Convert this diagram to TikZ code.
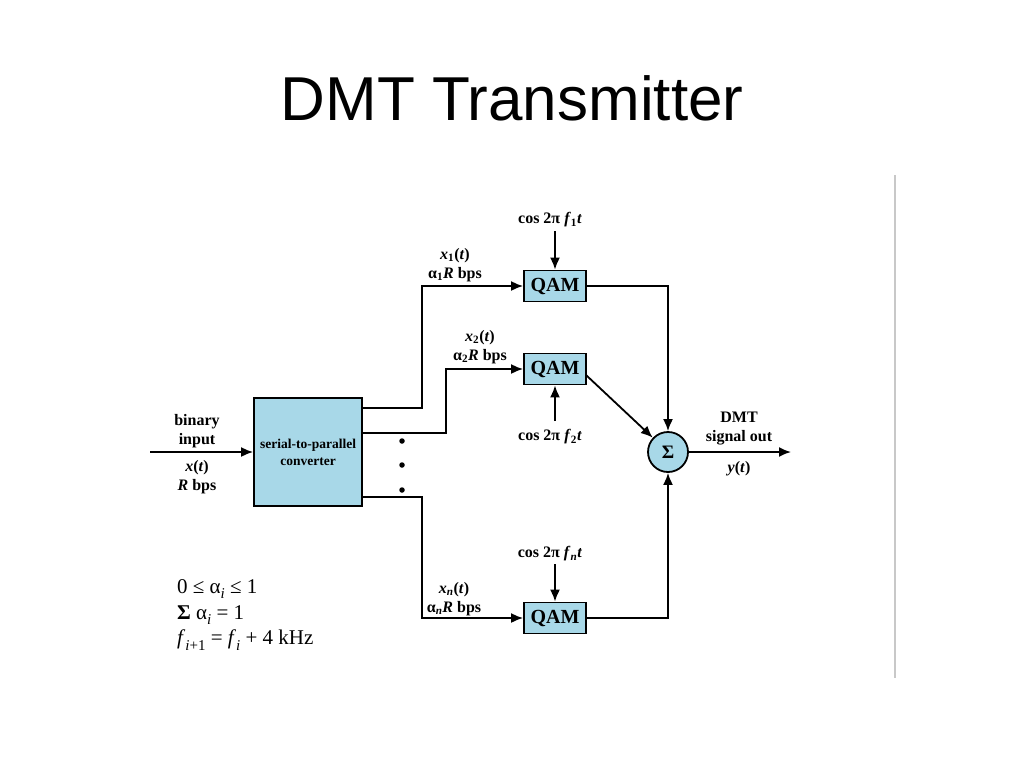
\documentclass[tikz,border=0pt]{standalone}
\usepackage{fontspec}
\setmainfont{Liberation Serif}
\newfontfamily\titlefont{Liberation Sans}
\usetikzlibrary{arrows.meta}
\definecolor{boxblue}{RGB}{168,216,232}
\definecolor{sepgray}{RGB}{200,200,200}
\tikzset{
  blk/.style={draw=black, line width=1.8pt, fill=boxblue, inner sep=0pt},
  qam/.style={blk, minimum width=62pt, minimum height=31pt, font=\fontsize{20}{22}\selectfont\bfseries},
  lbl/.style={align=center, inner sep=0pt, font=\fontsize{16}{19}\selectfont\bfseries},
  wire/.style={line width=1.8pt, draw=black},
  arr/.style={wire, -{Latex[length=12pt,width=10pt]}},
  dotm/.style={circle, fill=black, inner sep=0pt, minimum size=5.5pt},
  note/.style={anchor=west, inner sep=0pt, font=\fontsize{21}{22}\selectfont}
}
\newcommand{\bi}[1]{\textbf{\textit{#1}}}
\newcommand{\sbx}[1]{\raisebox{-0.28em}{\fontsize{15}{15}\selectfont #1}}
\begin{document}
\begin{tikzpicture}[x=1pt,y=-1pt]
\useasboundingbox[fill=white] (0,0) rectangle (1024,768);
% title
\node[inner sep=0pt, font=\titlefont\fontsize{62}{70}\selectfont] (title) at (512,98) {DMT Transmitter};
% separator line
\draw[sepgray, line width=1.5pt] (895,175) coordinate (s1) -- (895,678) coordinate (s2);

% converter
\node[blk, minimum width=108pt, minimum height=108pt, font=\fontsize{13.5}{17}\selectfont\bfseries, align=center] (sp) at (308,452) {serial-to-parallel\\converter};
\coordinate (in) at (150,452);
\draw[arr] (in) -- (sp.west);
\node[lbl] (binlbl) at (197,431) {binary\\input};
\node[lbl] (xlbl) at (197,477) {\bi{x}(\textit{t})\\\bi{R} bps};

% QAM boxes
\node[qam] (q1) at (555,286) {QAM};
\node[qam] (q2) at (555,369) {QAM};
\node[qam] (qn) at (555,618) {QAM};

% summing node
\node[blk, circle, minimum size=40pt, font=\fontsize{19}{20}\selectfont\bfseries] (sum) at (668,452) {Σ};

% converter outputs
\coordinate (o1) at (362,408);
\coordinate (o2) at (362,433);
\coordinate (o3) at (362,497);
\coordinate (j1) at (422,286);
\coordinate (j2) at (446,369);
\coordinate (j3) at (422,618);
\draw[arr] (o1) -| (j1) -- (q1.west);
\draw[arr] (o2) -| (j2) -- (q2.west);
\draw[arr] (o3) -| (j3) -- (qn.west);

% dots
\node[dotm] (d1) at (402,441) {};
\node[dotm] (d2) at (402,465) {};
\node[dotm] (d3) at (402,490) {};

% branch labels
\node[lbl] (x1) at (455,265) {\bi{x}\textsubscript{1}(\textit{t})\\α\textsubscript{1}\bi{R} bps};
\node[lbl] (x2) at (480,347) {\bi{x}\textsubscript{2}(\textit{t})\\α\textsubscript{2}\bi{R} bps};
\node[lbl] (xn) at (454,599) {\bi{x}\textsubscript{\textit{n}}(\textit{t})\\α\textsubscript{\textit{n}}\bi{R} bps};

% carriers
\node[lbl] (c1) at (550,220) {cos 2π \bi{f}\textsubscript{1}\textit{t}};
\node[lbl] (c2) at (550,437) {cos 2π \bi{f}\textsubscript{2}\textit{t}};
\node[lbl] (cn) at (550,554) {cos 2π \bi{f}\textsubscript{\textit{n}}\textit{t}};
\coordinate (c1a) at (555,231);
\coordinate (c2a) at (555,421);
\coordinate (cna) at (555,564);
\draw[arr] (c1a) -- (q1.north);
\draw[arr] (c2a) -- (q2.south);
\draw[arr] (cna) -- (qn.north);

% to summer
\coordinate (k1) at (668,286);
\coordinate (k3) at (668,618);
\draw[arr] (q1.east) -- (k1) -- (sum.north);
\draw[arr] (qn.east) -- (k3) -- (sum.south);
\coordinate (q2o) at (586,375);
\draw[arr] (q2o) -- (sum);

% output
\coordinate (out) at (791,452);
\draw[arr] (sum.east) -- (out);
\node[lbl] (dmt) at (739,429) {DMT\\signal out};
\node[lbl] (ylbl) at (739,469) {\bi{y}(\textit{t})};

% notes
\node[note] (n1) at (177,589) {0 ≤ α\sbx{\textit{i}} ≤ 1};
\node[note] (n2) at (177,615) {\textbf{Σ} α\sbx{\textit{i}} = 1};
\node[note] (n3) at (177,640) {\textit{f}\sbx{\textit{i}+1} = \textit{f}\sbx{\textit{i}} + 4 kHz};
\end{tikzpicture}
\end{document}
